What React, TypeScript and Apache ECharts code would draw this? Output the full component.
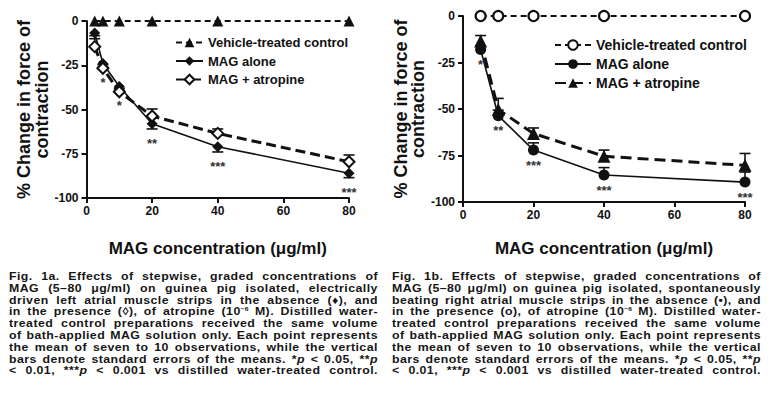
import React, { useEffect, useRef } from "react";
import * as echarts from "echarts";

// ---------- data: panel a (left) ----------
const xLeft = [2.5, 5, 10, 20, 40, 80];
const vehicleLeft = [0, 0, 0, 0, 0, 0];
const magAloneLeft = [-6.8, -24, -37, -58, -71, -86];
const magAloneLeftSE = [1.5, 2, 2, 3, 3, 2.5]; // drawn downward
const atropineLeft = [-14.5, -26.7, -40, -53.7, -63.5, -79.5];
const atropineLeftSE = [4.5, 2, 2, 4, 2.5, 3.8]; // drawn upward
const starsLeft = ["", "*", "*", "**", "***", "***"];

// ---------- data: panel b (right) ----------
const xRight = [5, 10, 20, 40, 80];
const vehicleRight = [0, 0, 0, 0, 0];
const magAloneRight = [-18, -53.6, -72.1, -85.5, -89.3];
const magAloneRightSE = [2, 3, 3.9, 4, 5.4]; // drawn upward
const atropineRight = [-13.5, -50.3, -63.2, -75.4, -80.3];
const atropineRightSE = [3, 6, 3, 3.3, 6.4]; // drawn upward
const starsRight = ["*", "**", "***", "***", "***"];

const xTicks = { min: 0, max: 80, interval: 20 };
const yTicks = { min: -100, max: 0, interval: 25 };

const legendNames = ["Vehicle-treated control", "MAG alone", "MAG + atropine"];

const captionLeft = [
  "Fig. 1a. Effects of stepwise, graded concentrations of",
  "MAG (5–80 μg/ml) on guinea pig isolated, electrically",
  "driven left atrial muscle strips in the absence (♦), and",
  "in the presence (◊), of atropine (10|−6| M). Distilled water-",
  "treated control preparations received the same volume",
  "of bath-applied MAG solution only. Each point represents",
  "the mean of seven to 10 observations, while the vertical",
  "bars denote standard errors of the means. *~p~ < 0.05, **~p~",
  "< 0.01, ***~p~ < 0.001 vs distilled water-treated control.",
];
const captionRight = [
  "Fig. 1b. Effects of stepwise, graded concentrations of",
  "MAG (5–80 μg/ml) on guinea pig isolated, spontaneously",
  "beating right atrial muscle strips in the absence (•), and",
  "in the presence (o), of atropine (10|−6| M). Distilled water-",
  "treated control preparations received the same volume",
  "of bath-applied MAG solution only. Each point represents",
  "the mean of seven to 10 observations, while the vertical",
  "bars denote standard errors of the means. *~p~ < 0.05, **~p~",
  "< 0.01, ***~p~ < 0.001 vs distilled water-treated control.",
];

const FONT = "'Liberation Sans', Arial, Helvetica, sans-serif";
const INK = "#111";

function zip(xs: number[], ys: number[]) {
  return xs.map((x, i) => [x, ys[i]]);
}

function errData(xs: number[], ys: number[], se: number[], dir: number) {
  return xs.map((x, i) => [x, ys[i], ys[i] + dir * se[i]]);
}

function errorSeries(name: string, idx: number, data: number[][]) {
  return {
    type: "custom",
    name,
    xAxisIndex: idx,
    yAxisIndex: idx,
    z: 3,
    clip: false,
    silent: true,
    data,
    renderItem: (params: any, api: any) => {
      const p0 = api.coord([api.value(0), api.value(1)]);
      const p1 = api.coord([api.value(0), api.value(2)]);
      const st = { stroke: INK, lineWidth: 1.6 };
      return {
        type: "group",
        children: [
          { type: "line", shape: { x1: p0[0], y1: p0[1], x2: p1[0], y2: p1[1] }, style: st },
          { type: "line", shape: { x1: p1[0] - 5.5, y1: p1[1], x2: p1[0] + 5.5, y2: p1[1] }, style: st },
        ],
      };
    },
  };
}

function starSeries(name: string, idx: number, data: any[], dy: number) {
  return {
    type: "custom",
    name,
    xAxisIndex: idx,
    yAxisIndex: idx,
    z: 6,
    clip: false,
    silent: true,
    data,
    renderItem: (params: any, api: any) => {
      const p = api.coord([api.value(0), api.value(1)]);
      const txt = data[params.dataIndex][2];
      return {
        type: "text",
        x: p[0],
        y: p[1] + dy,
        style: {
          text: txt,
          fill: "#333",
          font: `bold 13px ${FONT}`,
          align: "center",
          verticalAlign: "middle",
        },
      };
    },
  };
}

function axesFor(idx: number, yGap: number, xGap: number) {
  const common = {
    axisLine: { show: true, onZero: false, lineStyle: { color: INK, width: 2 } },
    axisTick: { show: true, length: 5, lineStyle: { color: INK, width: 2 } },
    splitLine: { show: false },
    axisLabel: { color: INK, fontSize: 12, fontWeight: "bold", fontFamily: FONT },
  };
  return {
    x: {
      type: "value",
      gridIndex: idx,
      ...xTicks,
      ...common,
      axisLabel: { ...common.axisLabel, margin: 7 },
      name: "MAG concentration (μg/ml)",
      nameLocation: "middle",
      nameGap: xGap,
      nameTextStyle: { color: INK, fontSize: 17, fontWeight: "bold", fontFamily: FONT },
    },
    y: {
      type: "value",
      gridIndex: idx,
      ...yTicks,
      ...common,
      axisLabel: { ...common.axisLabel, margin: 8 },
      name: "% Change in force of\ncontraction",
      nameLocation: "middle",
      nameRotate: 90,
      nameGap: yGap,
      nameTextStyle: {
        color: INK,
        fontSize: 18,
        fontWeight: "bold",
        fontFamily: FONT,
        lineHeight: 17.5,
      },
    },
  };
}

function renderWord(w: string, key: number) {
  // "|...|" = superscript, "~...~" = italic
  const parts = w.split(/(\|[^|]*\||~[^~]*~)/).filter((s) => s !== "");
  return (
    <span key={key} style={{ whiteSpace: "nowrap" }}>
      {parts.map((p, j) => {
        if (p.startsWith("|")) {
          return (
            <sup key={j} style={{ fontSize: 6, lineHeight: 0, verticalAlign: "4px", letterSpacing: 0 }}>
              {p.slice(1, -1)}
            </sup>
          );
        }
        if (p.startsWith("~")) return <i key={j}>{p.slice(1, -1)}</i>;
        return <React.Fragment key={j}>{p}</React.Fragment>;
      })}
    </span>
  );
}

const CAPTION_W = 369;
const CAPTION_STRETCH = 1.12;

function Caption({ lines, left, top }: { lines: string[]; left: number; top: number }) {
  return (
    <div
      style={{
        position: "absolute",
        left,
        top,
        width: CAPTION_W / CAPTION_STRETCH,
        transform: `scaleX(${CAPTION_STRETCH})`,
        transformOrigin: "0 0",
        fontFamily: FONT,
        fontWeight: "bold",
        fontSize: 11,
        letterSpacing: "0.4px",
        lineHeight: "11.8px",
        color: "#161616",
      }}
    >
      {lines.map((ln, i) => (
        <div
          key={i}
          style={{
            display: "flex",
            justifyContent: "space-between",
            flexWrap: "nowrap",
            columnGap: 2.5,
            height: 11.8,
            whiteSpace: "nowrap",
          }}
        >
          {ln.split(" ").map((w, j) => renderWord(w, j))}
        </div>
      ))}
    </div>
  );
}

export default function App() {
  const ref = useRef<HTMLDivElement>(null);

  useEffect(() => {
    document.body.style.margin = "0";
    if (!ref.current) return;
    const chart = echarts.init(ref.current, null, { renderer: "svg" });
    const a0 = axesFor(0, 31, 42);
    const a1 = axesFor(1, 24, 38);

    const lineCommon = { type: "line", clip: false, z: 5 };

    const option: any = {
      animation: false,
      backgroundColor: "#fff",
      textStyle: { fontFamily: FONT },
      grid: [
        { left: 86.5, width: 262.5, top: 21, height: 177 },
        { left: 463, width: 282, top: 16, height: 187 },
      ],
      xAxis: [a0.x, a1.x],
      yAxis: [a0.y, a1.y],
      legend: [
        {
          orient: "vertical",
          left: 170,
          top: 31,
          itemWidth: 27,
          itemHeight: 12,
          itemGap: 5.5,
          data: legendNames,
          textStyle: { color: INK, fontSize: 13, fontWeight: "bold", fontFamily: FONT },
          selectedMode: false,
        },
        {
          orient: "vertical",
          left: 549,
          top: 33,
          itemWidth: 36,
          itemHeight: 12,
          itemGap: 5,
          itemTextGap: 4,
          data: legendNames.map((n) => "b:" + n),
          formatter: (n: string) => n.replace(/^b:/, ""),
          textStyle: { color: INK, fontSize: 14, fontWeight: "bold", fontFamily: FONT },
          selectedMode: false,
        },
      ],
      series: [
        // ---- panel a ----
        errorSeries("errA1", 0, errData(xLeft, magAloneLeft, magAloneLeftSE, -1)),
        errorSeries("errA2", 0, errData(xLeft, atropineLeft, atropineLeftSE, 1)),
        {
          ...lineCommon,
          name: legendNames[0],
          xAxisIndex: 0,
          yAxisIndex: 0,
          data: zip(xLeft, vehicleLeft),
          symbol: "triangle",
          symbolSize: 11,
          itemStyle: { color: INK },
          lineStyle: { color: INK, width: 2.2, type: [6, 4] },
        },
        {
          ...lineCommon,
          name: legendNames[1],
          xAxisIndex: 0,
          yAxisIndex: 0,
          data: zip(xLeft, magAloneLeft),
          symbol: "diamond",
          symbolSize: 11,
          itemStyle: { color: INK },
          lineStyle: { color: INK, width: 1.6, type: "solid" },
        },
        {
          ...lineCommon,
          name: legendNames[2],
          xAxisIndex: 0,
          yAxisIndex: 0,
          data: zip(xLeft, atropineLeft),
          symbol: "diamond",
          symbolSize: 11,
          itemStyle: { color: "#fff", borderColor: INK, borderWidth: 2 },
          lineStyle: { color: INK, width: 3, type: [10, 5] },
        },
        starSeries(
          "starsA",
          0,
          xLeft.map((x, i) => [x, magAloneLeft[i] - magAloneLeftSE[i], starsLeft[i]]),
          15
        ),
        // ---- panel b ----
        errorSeries("errB1", 1, errData(xRight, magAloneRight, magAloneRightSE, 1)),
        errorSeries("errB2", 1, errData(xRight, atropineRight, atropineRightSE, 1)),
        {
          ...lineCommon,
          name: "b:" + legendNames[0],
          xAxisIndex: 1,
          yAxisIndex: 1,
          data: zip(xRight, vehicleRight),
          symbol: "circle",
          symbolSize: 10,
          itemStyle: { color: "#fff", borderColor: INK, borderWidth: 2.2 },
          lineStyle: { color: INK, width: 2.2, type: [6, 4] },
        },
        {
          ...lineCommon,
          name: "b:" + legendNames[1],
          xAxisIndex: 1,
          yAxisIndex: 1,
          data: zip(xRight, magAloneRight),
          symbol: "circle",
          symbolSize: 11,
          itemStyle: { color: INK },
          lineStyle: { color: INK, width: 1.6, type: "solid" },
        },
        {
          ...lineCommon,
          name: "b:" + legendNames[2],
          xAxisIndex: 1,
          yAxisIndex: 1,
          data: zip(xRight, atropineRight),
          symbol: "triangle",
          symbolSize: 13,
          itemStyle: { color: INK },
          lineStyle: { color: INK, width: 3, type: [11, 6] },
        },
        starSeries(
          "starsB",
          1,
          xRight.map((x, i) => [x, magAloneRight[i], starsRight[i]]),
          15
        ),
      ],
    };
    chart.setOption(option);
    return () => chart.dispose();
  }, []);

  return (
    <div style={{ position: "relative", width: 773, height: 401, background: "#fff", overflow: "hidden" }}>
      <div ref={ref} style={{ position: "absolute", left: 0, top: 0, width: 773, height: 262 }} />
      <Caption lines={captionLeft} left={9} top={271} />
      <Caption lines={captionRight} left={392} top={271} />
    </div>
  );
}
